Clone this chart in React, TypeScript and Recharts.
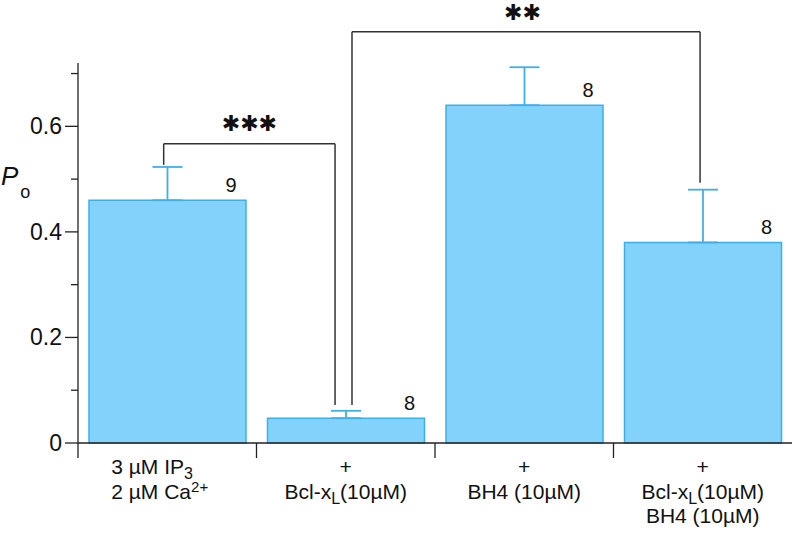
// @ts-nocheck
import React from 'react';
import { BarChart, Bar, XAxis, YAxis, ErrorBar, LabelList, ReferenceLine, ReferenceDot } from 'recharts';

// open probability (P_o) per condition
const positions = [0, 1, 2, 3];
const openProb = [0.46, 0.047, 0.64, 0.38];
const semUp = [0.063, 0.014, 0.072, 0.1];
const nCells = [9, 8, 8, 8];
const xLabels = [
    ['3 µM IP_{3}', '2 µM Ca^{2+}'],
    ['+', 'Bcl-x_{L}(10µM)'],
    ['+', 'BH4 (10µM)'],
    ['+', 'Bcl-x_{L}(10µM)', 'BH4 (10µM)'],
];
const yTicks = [0, 0.1, 0.2, 0.3, 0.4, 0.5, 0.6, 0.7];
const yLabelled = [0, 0.2, 0.4, 0.6];
const xTicks = [-0.5, 0, 0.5, 1, 1.5, 2, 2.5, 3];

// significance brackets, in data units (x = condition index, y = P_o)
const bracketA = [[-0.02, 0.527], [-0.02, 0.567], [0.94, 0.567], [0.94, 0.072]];
const bracketB = [[1.035, 0.072], [1.035, 0.779], [2.985, 0.779], [2.985, 0.493]];
const stars = [
    { x: 0.46, y: 0.606, text: '✱✱✱' },
    { x: 1.99, y: 0.817, text: '✱✱' },
];

const data = positions.map((x, i) => ({ x, po: openProb[i], err: [0, semUp[i]], n: nCells[i] }));

const FONT = "'Liberation Sans', Arial, sans-serif";
const BLUE_FILL = '#82d2fb';
const BLUE_LINE = '#3db0ea';

function richText(s) {
    return s
        .split(/(_\{[^}]*\}|\^\{[^}]*\})/)
        .filter(Boolean)
        .map((seg, k) => {
            if (seg.startsWith('_{'))
                return <tspan key={k} fontSize={16} baselineShift={-5}>{seg.slice(2, -1)}</tspan>;
            if (seg.startsWith('^{'))
                return <tspan key={k} fontSize={15} baselineShift={7}>{seg.slice(2, -1)}</tspan>;
            return <tspan key={k}>{seg}</tspan>;
        });
}

const XTick = ({ x, y, payload }) => {
    const v = payload.value;
    if (!Number.isInteger(v)) {
        return <line x1={x} x2={x} y1={y} y2={y + 15} stroke="#222" strokeWidth={1.3} />;
    }
    const lines = xLabels[v];
    const first = v === 0;
    return (
        <g>
            {lines.map((ln, i) => (
                <text
                    key={i}
                    x={first ? x - 56 : x}
                    y={y + 31 + i * 24.5}
                    textAnchor={first ? 'start' : 'middle'}
                    fontSize={21}
                    fontFamily={FONT}
                    fill="#111"
                >
                    {richText(ln)}
                </text>
            ))}
        </g>
    );
};

const YTick = ({ x, y, payload }) => {
    const major = yLabelled.includes(payload.value);
    return (
        <g>
            <line x1={x - (major ? 13 : 7)} x2={x} y1={y} y2={y} stroke="#222" strokeWidth={1.3} />
            {major && (
                <text x={x - 16} y={y + 8} textAnchor="end" fontSize={23} fontFamily={FONT} fill="#111">
                    {payload.value === 0 ? '0' : payload.value.toFixed(1)}
                </text>
            )}
        </g>
    );
};

const YTitle = ({ viewBox }) => (
    <text x={viewBox.x + 1} y={viewBox.y + 122} fontFamily={FONT} fill="#111">
        <tspan fontSize={26} fontStyle="italic">P</tspan>
        <tspan fontSize={18} dx={2} dy={13}>o</tspan>
    </text>
);

export default function App() {
    const segs = (pts) => pts.slice(1).map((p, i) => [pts[i], p]);
    return (
        <div style={{ width: 796, height: 533 }}>
            <style>{'body{margin:0}'}</style>
            <BarChart width={796} height={533} data={data} margin={{ top: 63, right: 4, bottom: 0, left: 0 }}>
                <XAxis
                    dataKey="x"
                    type="number"
                    domain={[-0.5, 3.5]}
                    ticks={xTicks}
                    interval={0}
                    height={90}
                    tickLine={false}
                    tickSize={0}
                    tickMargin={0}
                    tick={<XTick />}
                    axisLine={{ stroke: '#222', strokeWidth: 1.3 }}
                />
                <YAxis
                    domain={[0, 0.72]}
                    ticks={yTicks}
                    interval={0}
                    width={78}
                    tickLine={false}
                    tickSize={0}
                    tickMargin={0}
                    tick={<YTick />}
                    axisLine={{ stroke: '#222', strokeWidth: 1.3 }}
                    label={<YTitle />}
                />
                <Bar dataKey="po" fill={BLUE_FILL} stroke={BLUE_LINE} strokeWidth={1.5} barSize={157} isAnimationActive={false}>
                    <ErrorBar dataKey="err" width={15} stroke={BLUE_LINE} strokeWidth={1.8} direction="y" isAnimationActive={false} />
                    <LabelList
                        dataKey="n"
                        content={({ x, y, width, value }) => (
                            <text x={x + width - 15} y={y - 8} textAnchor="middle" fontSize={20} fontFamily={FONT} fill="#111">
                                {value}
                            </text>
                        )}
                    />
                </Bar>
                {[...segs(bracketA), ...segs(bracketB)].map(([a, b], i) => (
                    <ReferenceLine
                        key={i}
                        segment={[{ x: a[0], y: a[1] }, { x: b[0], y: b[1] }]}
                        stroke="#333"
                        strokeWidth={1.5}
                        ifOverflow="visible"
                    />
                ))}
                {stars.map((s, i) => (
                    <ReferenceDot
                        key={i}
                        x={s.x}
                        y={s.y}
                        r={0}
                        ifOverflow="visible"
                        shape={({ cx, cy }) => (
                            <text x={cx} y={cy + 8} textAnchor="middle" fontSize={22} fontFamily="'DejaVu Sans'" fill="#111">
                                {s.text}
                            </text>
                        )}
                    />
                ))}
            </BarChart>
        </div>
    );
}
